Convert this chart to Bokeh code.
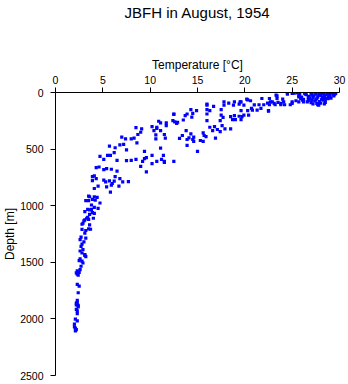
from bokeh.plotting import figure
from bokeh.models import Range1d, FixedTicker, ColumnDataSource, LinearAxis
from bokeh.embed import file_html
from bokeh.resources import INLINE

title_text = "JBFH in August, 1954"
x_label = "Temperature [°C]"
y_label = "Depth [m]"
x_ticks = [0, 5, 10, 15, 20, 25, 30]
y_ticks = [0, 500, 1000, 1500, 2000, 2500]

# (temperature °C, depth m)
mixed_layer = [
    (25.2, 6), (25.7, 29), (26.4, 15), (26.7, 44), (26.9, 59), (25.4, 73), (25.0, 82),
    (25.7, 82), (26.2, 82), (27.7, 108), (24.5, 15), (23.4, 29), (23.4, 53), (22.6, 53),
    (21.8, 53), (24.0, 59), (22.9, 82), (22.4, 94), (22.0, 108), (23.2, 108), (23.8, 108),
    (24.2, 108), (24.8, 108), (22.6, 108), (21.5, 108), (22.7, 82), (23.1, 96), (23.5, 88),
    (23.8, 96), (24.1, 82), (23.3, 24), (24.5, 9), (25.0, 9), (25.5, 3), (25.0, 96),
    (25.7, 38), (26.1, 68), (26.4, 9), (26.8, 53), (27.1, 24), (27.5, 2), (27.8, 24),
    (28.2, 2), (28.5, 53), (28.9, 2), (29.2, 1), (29.4, 18), (28.3, 68), (27.6, 96),
    (27.8, 111), (27.1, 68), (26.6, 82), (26.5, 20), (26.8, 35), (27.0, 10), (27.2, 45),
    (27.3, 30), (27.5, 15), (27.6, 55), (27.7, 40), (27.9, 5), (28.0, 25), (28.1, 60),
    (28.2, 45), (28.3, 15), (28.4, 35), (28.6, 20), (28.7, 8), (28.8, 40), (28.9, 28),
    (29.0, 12), (29.1, 50), (29.3, 5), (29.4, 30), (29.5, 15), (27.4, 75), (27.9, 80),
    (28.5, 70), (26.2, 60), (26.0, 40), (27.0, 90), (28.0, 95), (26.7, 70), (27.5, 65),
    (28.8, 55), (29.0, 35), (28.2, 8), (27.1, 2), (26.3, 5), (25.8, 15), (25.9, 55),
    (29.6, 8), (28.5, 88), (27.8, 100), (28.4, 100), (27.2, 100),
]

upper_thermocline = [
    (20.2, 59), (20.6, 73), (19.5, 82), (18.9, 82), (19.4, 103), (19.9, 111), (18.8, 111),
    (17.8, 82), (17.8, 111), (18.3, 94), (21.7, 140), (21.3, 155), (20.8, 155), (20.3, 160),
    (19.6, 160), (22.5, 160), (20.7, 140), (20.4, 199), (19.9, 199), (19.7, 213), (19.4, 210),
    (18.9, 204), (18.5, 213), (19.0, 239), (18.7, 239), (19.6, 239), (17.5, 152), (17.5, 199),
    (17.7, 219), (16.7, 123), (16.0, 111), (16.0, 152), (16.0, 190), (16.3, 160), (14.9, 160),
    (17.4, 248), (17.6, 292), (17.9, 322), (18.5, 322), (16.8, 301), (17.1, 327), (17.4, 345),
    (16.3, 307), (16.6, 336), (16.0, 248), (15.6, 357), (15.7, 380), (15.9, 389), (15.3, 424),
    (15.6, 432), (16.9, 403), (16.0, 103), (19.6, 82), (20.3, 66), (21.0, 110), (22.5, 164),
]

lower_thermocline = [
    (14.3, 152), (13.9, 190), (14.5, 184), (13.7, 204), (14.4, 217), (12.5, 193), (12.6, 260),
    (12.8, 272), (12.4, 248), (13.5, 243), (10.9, 254), (11.1, 269), (11.7, 269), (11.7, 292),
    (10.2, 301), (10.7, 307), (11.1, 336), (10.4, 336), (9.1, 322), (8.5, 310), (9.0, 351),
    (13.8, 336), (14.3, 366), (14.6, 395), (14.6, 432), (13.9, 415), (13.4, 380), (13.1, 406),
    (13.9, 467), (15.0, 520), (11.6, 403), (10.6, 410), (10.6, 374), (11.5, 371), (8.7, 371),
    (8.6, 445), (8.0, 410), (7.4, 410), (7.0, 395), (7.2, 459), (6.8, 462), (6.3, 488),
    (5.7, 474), (7.5, 506), (6.2, 532), (5.5, 555), (5.8, 555), (9.4, 520), (9.2, 608),
    (9.0, 652), (9.6, 702), (9.6, 576), (10.2, 555), (10.7, 608), (11.2, 590), (11.4, 555),
    (11.5, 608), (12.5, 608), (10.2, 629), (12.5, 190), (12.9, 263), (10.7, 318), (8.3, 403),
    (11.1, 491), (9.4, 585), (11.5, 618), (14.1, 400), (14.5, 415),
]

intermediate = [
    (4.7, 564), (5.1, 590), (6.5, 599), (7.5, 602), (8.0, 599), (8.5, 590), (5.4, 673),
    (5.9, 678), (6.5, 695), (5.1, 681), (4.6, 658), (4.3, 664), (3.9, 743), (4.1, 737),
    (3.9, 778), (4.3, 760), (5.1, 774), (5.3, 789), (5.7, 781), (6.2, 783), (6.3, 743),
    (6.8, 760), (7.1, 789), (7.7, 787), (5.9, 818), (6.7, 827), (5.8, 880), (5.4, 833),
    (4.5, 827), (4.1, 848), (3.5, 956), (3.2, 956), (3.6, 921), (4.1, 921), (4.2, 950),
    (4.4, 927), (4.7, 976), (3.1, 1052), (3.4, 1032), (3.8, 1032), (4.1, 1015), (4.5, 1023),
    (3.6, 1076), (3.3, 1111), (3.0, 1134), (2.8, 1164), (3.6, 1169), (4.1, 1067), (4.0, 1111),
    (3.5, 1204), (2.8, 1210), (6.0, 804), (3.5, 915), (3.9, 945), (3.8, 994), (3.6, 1037),
    (3.9, 1061), (3.4, 1102), (3.1, 1125), (3.5, 1120),
]

deep = [
    (2.9, 1155), (3.2, 1219), (3.7, 1208), (3.1, 1243), (2.7, 1278), (3.2, 1287), (2.7, 1359),
    (2.9, 1388), (2.8, 1418), (3.1, 1432), (3.1, 1438), (2.5, 1485), (2.9, 1506), (2.7, 1535),
    (2.6, 1564), (2.2, 1594), (2.4, 1614), (2.3, 1695), (2.5, 1710), (2.4, 1769), (2.3, 1836),
    (2.3, 1857), (2.2, 1877), (2.4, 1894), (2.3, 1929), (2.3, 1953), (2.1, 2002), (2.3, 2017),
    (2.0, 2046), (2.1, 2081), (2.1, 2105), (2.6, 1300), (3.0, 1320), (2.8, 1340), (2.6, 1400),
    (3.2, 1450), (2.6, 1470), (2.8, 1490), (2.3, 1575), (2.5, 1590), (2.3, 1605), (2.2, 1860),
    (2.4, 1880), (2.2, 1915), (2.2, 2095), (2.0, 2070),
]

all_pts = mixed_layer + upper_thermocline + lower_thermocline + intermediate + deep
source = ColumnDataSource(data=dict(
    temp=[t for t, d in all_pts],
    depth=[d for t, d in all_pts],
))

FONT = "Liberation Sans"

p = figure(
    width=348, height=384,
    x_range=Range1d(0, 30), y_range=Range1d(2500, 0),
    x_axis_location="above",
    output_backend="svg", toolbar_location=None,
    min_border_left=54, min_border_right=9, min_border_bottom=9, min_border_top=90,
)
p.outline_line_color = None
p.grid.visible = False
p.background_fill_color = "white"
p.border_fill_color = "white"

for ax, ticks, lab in ((p.xaxis[0], x_ticks, x_label), (p.yaxis[0], y_ticks, y_label)):
    ax.ticker = FixedTicker(ticks=ticks)
    ax.axis_label = lab
    ax.axis_label_text_font = FONT
    ax.axis_label_text_font_size = "12px"
    ax.axis_label_text_font_style = "normal"
    ax.axis_label_text_color = "black"
    ax.major_label_text_font = FONT
    ax.major_label_text_font_size = "10.5px"
    ax.major_label_text_color = "black"
    ax.major_tick_in = 0
    ax.major_tick_out = 5
    ax.minor_tick_in = 0
    ax.minor_tick_out = 0
    ax.axis_line_color = "black"
    ax.major_tick_line_color = "black"

p.xaxis.major_label_standoff = 4
p.xaxis.axis_label_standoff = 1
p.yaxis.major_label_standoff = 7
p.yaxis.axis_label_standoff = 0

# chart title: carried by a bare axis stacked above the temperature axis
title_axis = LinearAxis(
    ticker=FixedTicker(ticks=[]),
    axis_label=title_text,
    axis_label_text_font=FONT,
    axis_label_text_font_size="15px",
    axis_label_text_font_style="normal",
    axis_label_text_color="black",
    axis_label_standoff=34,
    axis_line_color=None,
    major_tick_line_color=None,
    minor_tick_line_color=None,
    major_label_text_font_size="0px",
    major_tick_in=0, major_tick_out=0, minor_tick_in=0, minor_tick_out=0,
    major_label_standoff=0,
)
p.add_layout(title_axis, "above")

p.scatter("temp", "depth", source=source, marker="square", size=3.2,
          fill_color="#0000ff", line_color=None)

open("out.html", "w").write(file_html(p, INLINE))
